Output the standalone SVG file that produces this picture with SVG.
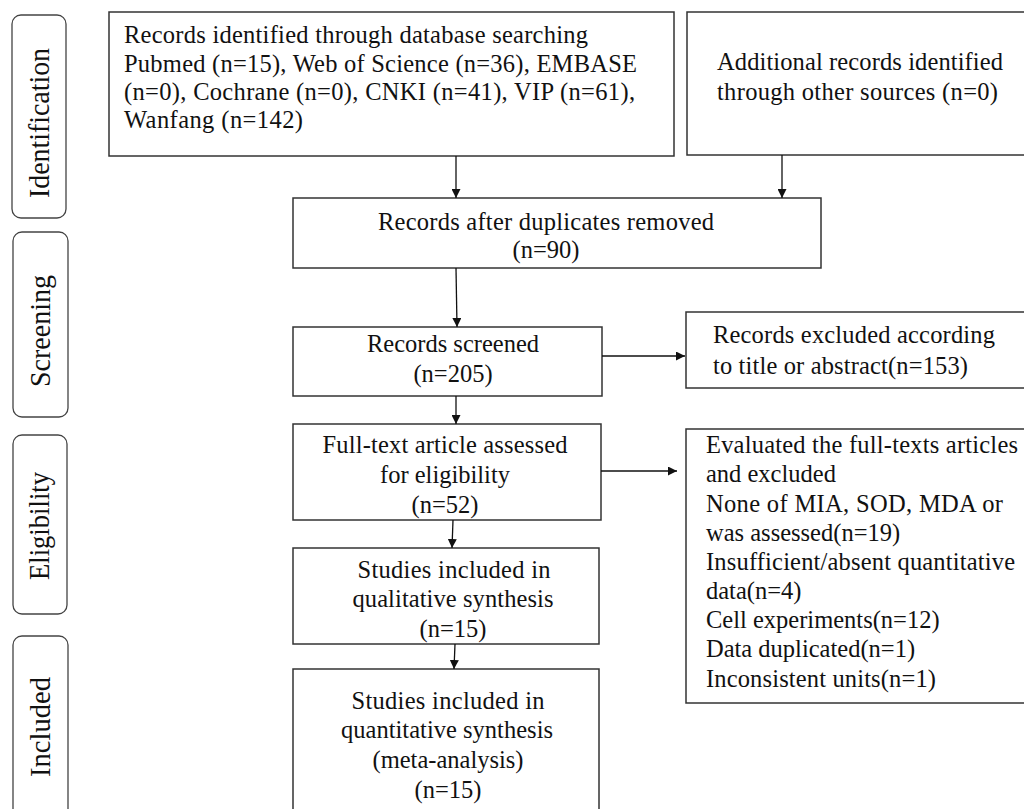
<svg xmlns="http://www.w3.org/2000/svg" width="1024" height="809" viewBox="0 0 1024 809">
<defs>
<style>
.box{fill:#fff;stroke:#333;stroke-width:1.5}
.side{fill:#fff;stroke:#444;stroke-width:1.3}
.t{font-family:"Liberation Serif","Times New Roman",serif;font-size:24.5px;fill:#111}
.c{text-anchor:middle}
.s{font-family:"Liberation Serif","Times New Roman",serif;font-size:29px;fill:#111;text-anchor:middle}
.ln{stroke:#111;stroke-width:1.3;fill:none;marker-end:url(#ah)}
</style>
<marker id="ah" viewBox="0 0 10 10" refX="10" refY="5" markerWidth="9" markerHeight="9" markerUnits="userSpaceOnUse" orient="auto">
<path d="M0,0 L10,5 L0,10 z" fill="#111"/>
</marker>
</defs>
<rect width="1024" height="809" fill="#fff"/>

<g id="stage-identification">
<rect class="side" x="12" y="15" width="54" height="203" rx="9"/>
<text class="s" transform="translate(49,123) rotate(-90)" textLength="150" lengthAdjust="spacingAndGlyphs">Identification</text>
</g>
<g id="stage-screening">
<rect class="side" x="13" y="232" width="55" height="185" rx="9"/>
<text class="s" transform="translate(50,331) rotate(-90)" textLength="112" lengthAdjust="spacingAndGlyphs">Screening</text>
</g>
<g id="stage-eligibility">
<rect class="side" x="13" y="435" width="54" height="179" rx="9"/>
<text class="s" transform="translate(49,526) rotate(-90)" textLength="108" lengthAdjust="spacingAndGlyphs">Eligibility</text>
</g>
<g id="stage-included">
<rect class="side" x="13" y="636" width="55" height="190" rx="9"/>
<text class="s" transform="translate(50,727) rotate(-90)" textLength="100" lengthAdjust="spacingAndGlyphs">Included</text>
</g>

<g id="n-database">
<rect class="box" x="109" y="12" width="565" height="144"/>
<text class="t" x="124" y="43" textLength="464" lengthAdjust="spacing">Records identified through database searching</text>
<text class="t" x="124" y="72" textLength="513" lengthAdjust="spacing">Pubmed (n=15), Web of Science (n=36), EMBASE</text>
<text class="t" x="124" y="100" textLength="511" lengthAdjust="spacing">(n=0), Cochrane (n=0), CNKI (n=41), VIP (n=61),</text>
<text class="t" x="124" y="128" textLength="179" lengthAdjust="spacing">Wanfang (n=142)</text>
</g>
<g id="n-other">
<rect class="box" x="687" y="12" width="345" height="143"/>
<text class="t" x="717" y="70" textLength="286" lengthAdjust="spacing">Additional records identified</text>
<text class="t" x="717" y="100" textLength="281" lengthAdjust="spacing">through other sources (n=0)</text>
</g>
<g id="n-dedup">
<rect class="box" x="293" y="198" width="528" height="70"/>
<text class="t c" x="546" y="230" textLength="336" lengthAdjust="spacing">Records after duplicates removed</text>
<text class="t c" x="546" y="258">(n=90)</text>
</g>
<g id="n-screened">
<rect class="box" x="293" y="327" width="309" height="69"/>
<text class="t c" x="453" y="352" textLength="172" lengthAdjust="spacing">Records screened</text>
<text class="t c" x="453" y="382">(n=205)</text>
</g>
<g id="n-excluded">
<rect class="box" x="686" y="312" width="345" height="76"/>
<text class="t" x="713" y="343" textLength="282" lengthAdjust="spacing">Records excluded according</text>
<text class="t" x="713" y="374" textLength="255" lengthAdjust="spacing">to title or abstract(n=153)</text>
</g>
<g id="n-fulltext">
<rect class="box" x="293" y="424" width="308" height="96"/>
<text class="t c" x="445" y="453" textLength="245" lengthAdjust="spacing">Full-text article assessed</text>
<text class="t c" x="445" y="483">for eligibility</text>
<text class="t c" x="445" y="513">(n=52)</text>
</g>
<g id="n-ft-excluded">
<rect class="box" x="686" y="429" width="345" height="274"/>
<text class="t" x="706" y="453" textLength="312" lengthAdjust="spacing">Evaluated the full-texts articles</text>
<text class="t" x="706" y="482">and excluded</text>
<text class="t" x="706" y="512" textLength="297" lengthAdjust="spacing">None of MIA, SOD, MDA or</text>
<text class="t" x="706" y="541">was assessed(n=19)</text>
<text class="t" x="706" y="570" textLength="309" lengthAdjust="spacing">Insufficient/absent quantitative</text>
<text class="t" x="706" y="599">data(n=4)</text>
<text class="t" x="706" y="628">Cell experiments(n=12)</text>
<text class="t" x="706" y="657">Data duplicated(n=1)</text>
<text class="t" x="706" y="687" textLength="230" lengthAdjust="spacing">Inconsistent units(n=1)</text>
</g>
<g id="n-qualitative">
<rect class="box" x="293" y="548" width="306" height="96"/>
<text class="t c" x="454" y="578" textLength="193" lengthAdjust="spacing">Studies included in</text>
<text class="t c" x="453" y="607" textLength="201" lengthAdjust="spacing">qualitative synthesis</text>
<text class="t c" x="453" y="637">(n=15)</text>
</g>
<g id="n-quantitative">
<rect class="box" x="293" y="669" width="306" height="160"/>
<text class="t c" x="448" y="709" textLength="193" lengthAdjust="spacing">Studies included in</text>
<text class="t c" x="447" y="738" textLength="212" lengthAdjust="spacing">quantitative synthesis</text>
<text class="t c" x="448" y="768">(meta-analysis)</text>
<text class="t c" x="448" y="798">(n=15)</text>
</g>

<g id="connectors">
<line class="ln" x1="456" y1="156" x2="456" y2="198"/>
<line class="ln" x1="782" y1="155" x2="782" y2="198"/>
<line class="ln" x1="456" y1="268" x2="457" y2="327"/>
<line class="ln" x1="602" y1="356" x2="685" y2="356"/>
<line class="ln" x1="456" y1="396" x2="456" y2="424"/>
<line class="ln" x1="601" y1="471" x2="677" y2="471"/>
<line class="ln" x1="453" y1="520" x2="452" y2="548"/>
<line class="ln" x1="455" y1="644" x2="454" y2="669"/>
</g>
</svg>
